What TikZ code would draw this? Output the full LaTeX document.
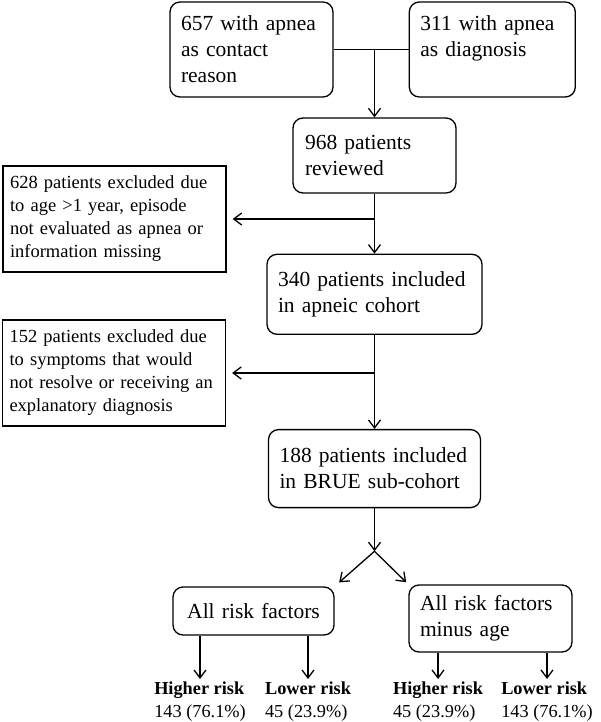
\documentclass[tikz,border=0pt]{standalone}
\usepackage{fontspec}
\setmainfont{Liberation Serif}
\usetikzlibrary{positioning,arrows.meta}

\begin{document}
\begin{tikzpicture}[x=1pt, y=-1pt, line width=1.3pt,
  stage/.style={draw, rounded corners=10pt, align=left, inner xsep=11pt,
                font=\fontsize{21.5}{26}\selectfont},
  excl/.style={draw, align=left, inner xsep=7pt, text width=209pt,
               minimum width=223pt, minimum height=106pt,
               font=\fontsize{18.5}{23}\selectfont},
  outcome/.style={align=left, inner sep=2pt, anchor=north,
                  font=\fontsize{18.3}{23}\selectfont},
  flow/.style={-{Straight Barb[length=8pt,width=12pt]}}]
  \useasboundingbox (0,0) rectangle (600,722);

  % sources
  \node[stage, text width=141pt, minimum width=163pt, minimum height=95pt] (contact)
       at (251.5,49.5) {657 with apnea\\as contact\\reason};
  \node[stage, text width=144pt, minimum width=164pt, minimum height=95pt,
        right=75pt of contact] (diag) {311 with apnea\\as diagnosis\\~};

  % main chain
  \node[stage, text width=139pt, minimum width=163pt, minimum height=75pt] (reviewed)
       at (374.5,155.5) {968 patients\\reviewed};
  \node[stage, text width=193pt, minimum width=215pt, minimum height=80pt,
        below=60pt of reviewed] (apneic) {340 patients included\\in apneic cohort};
  \node[stage, text width=190pt, minimum width=212pt, minimum height=78pt,
        below=94pt of apneic] (brue) {188 patients included\\in BRUE sub-cohort};

  % exclusions
  \node[excl] (excl1) at (114.5,219)
       {628 patients excluded due\\to age >1 year, episode\\not evaluated as apnea or\\information missing};
  \node[excl] (excl2) at (114,373)
       {152 patients excluded due\\to symptoms that would\\not resolve or receiving an\\explanatory diagnosis};

  % risk models
  \node[stage, align=center, text width=139pt, minimum width=161pt, minimum height=48pt] (allrisk)
       at (253.5,611) {All risk factors};
  \node[stage, text width=141pt, minimum width=163pt, minimum height=67pt] (minusage)
       at (490.5,618.5) {All risk factors\\minus age};

  \node[outcome] (hi1) at (200,679) {\textbf{Higher risk}\\143 (76.1\%)};
  \node[outcome] (lo1) at (308,679) {\textbf{Lower risk}\\45 (23.9\%)};
  \node[outcome] (hi2) at (438,679) {\textbf{Higher risk}\\45 (23.9\%)};
  \node[outcome] (lo2) at (547,679) {\textbf{Lower risk}\\143 (76.1\%)};

  \coordinate[below=43pt of brue.south] (split);

  \draw (contact.east) -- (contact.east -| diag.west);
  \draw[flow] (contact.east -| reviewed.north) -- (reviewed.north);
  \draw[flow] (reviewed) -- (apneic);
  \draw[flow, shorten >=6pt] (reviewed.south |- excl1) -- (excl1);
  \draw[flow] (apneic) -- (brue);
  \draw[flow, shorten >=6pt] (apneic.south |- excl2) -- (excl2);
  \draw[flow] (brue) -- (split);
  \draw[flow, shorten >=6pt] (split) -- (allrisk.north east);
  \draw[flow, shorten >=3pt] (split) -- (minusage.north west);
  \draw[flow] (allrisk.south -| hi1) -- (hi1);
  \draw[flow] (allrisk.south -| lo1) -- (lo1);
  \draw[flow] (minusage.south -| hi2) -- (hi2);
  \draw[flow] (minusage.south -| lo2) -- (lo2);
\end{tikzpicture}
\end{document}
